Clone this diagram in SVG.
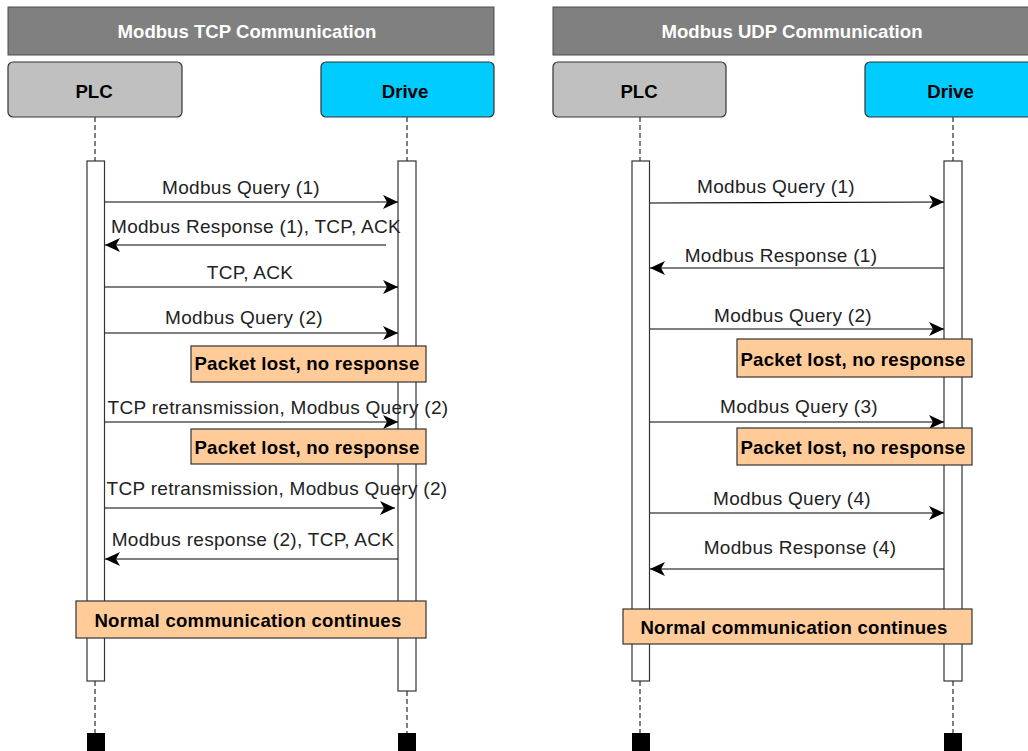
<svg xmlns="http://www.w3.org/2000/svg" width="1028" height="751" viewBox="0 0 1028 751">
<style>
.title{fill:#808080;stroke:#4d4d4d;stroke-width:1}
.tt{font-family:"Liberation Sans",Arial,sans-serif;font-weight:bold;font-size:18.6px;fill:#ffffff;text-anchor:middle}
.plc{fill:#c0c0c0;stroke:#333333;stroke-width:1.2}
.drv{fill:#00ccff;stroke:#333333;stroke-width:1.2}
.pt{font-family:"Liberation Sans",Arial,sans-serif;font-weight:bold;font-size:18.6px;fill:#000000;text-anchor:middle}
.life{stroke:#000000;stroke-width:1;stroke-dasharray:5 3;fill:none}
.bar{fill:#ffffff;stroke:#333333;stroke-width:1.2}
.end{fill:#000000}
.msg{stroke:#000000;stroke-width:1.2;fill:none;marker-end:url(#ah)}
.lbl{font-family:"Liberation Sans",Arial,sans-serif;font-size:19px;letter-spacing:0.3px;fill:#222222;text-anchor:middle}
.note{fill:#ffcc99;stroke:#333333;stroke-width:1.2}
.nt{font-family:"Liberation Sans",Arial,sans-serif;font-weight:bold;font-size:18.6px;letter-spacing:0.25px;fill:#000000;text-anchor:middle}
</style>
<defs>
<marker id="ah" markerUnits="userSpaceOnUse" markerWidth="18" markerHeight="18" viewBox="-17 -9 18 18" refX="0" refY="0" orient="auto">
<path d="M0,0 L-15,-7 L-11,0 L-15,7 Z" fill="#000000"/>
</marker>
</defs>
<rect width="1028" height="751" fill="#ffffff"/>

<!-- TCP panel -->
<g id="tcp-title"><rect class="title" x="8" y="7" width="486" height="48"/><text class="tt" x="247" y="38">Modbus TCP Communication</text></g>
<g id="tcp-plc">
<line class="life" x1="95" y1="117" x2="95" y2="161"/>
<line class="life" x1="95" y1="681" x2="95" y2="733"/>
<rect class="end" x="87" y="733" width="18" height="20"/>
<rect class="bar" x="87" y="161" width="17.5" height="520"/>
<rect class="plc" x="8" y="62" width="174" height="55" rx="5"/><text class="pt" x="94" y="98">PLC</text>
</g>
<g id="tcp-drive">
<line class="life" x1="407" y1="117" x2="407" y2="161"/>
<line class="life" x1="407" y1="691" x2="407" y2="733"/>
<rect class="end" x="398" y="733" width="18" height="20"/>
<rect class="bar" x="398" y="161" width="18" height="530"/>
<rect class="drv" x="321" y="62" width="173" height="55" rx="5"/><text class="pt" x="405" y="98">Drive</text>
</g>
<g id="tcp-connectors">
<line class="msg" x1="105" y1="202" x2="398" y2="202"/>
<line class="msg" x1="386" y1="245" x2="105" y2="245"/>
<line class="msg" x1="105" y1="287" x2="398" y2="287"/>
<line class="msg" x1="105" y1="333" x2="398" y2="333"/>
<line class="msg" x1="105" y1="422" x2="398" y2="422"/>
<line class="msg" x1="105" y1="508" x2="395" y2="508"/>
<line class="msg" x1="398" y1="559" x2="105" y2="559"/>
<text class="lbl" x="241" y="194">Modbus Query (1)</text>
<text class="lbl" x="256" y="233">Modbus Response (1), TCP, ACK</text>
<text class="lbl" x="250" y="279">TCP, ACK</text>
<text class="lbl" x="244" y="324">Modbus Query (2)</text>
<text class="lbl" x="278" y="414">TCP retransmission, Modbus Query (2)</text>
<text class="lbl" x="277" y="494.5">TCP retransmission, Modbus Query (2)</text>
<text class="lbl" x="253" y="545.5">Modbus response (2), TCP, ACK</text>
</g>
<g id="tcp-note1"><rect class="note" x="191" y="346" width="235" height="36"/><text class="nt" x="307" y="370">Packet lost, no response</text></g>
<g id="tcp-note2"><rect class="note" x="191" y="429" width="235" height="35"/><text class="nt" x="307" y="454">Packet lost, no response</text></g>
<g id="tcp-note3"><rect class="note" x="76" y="601" width="350" height="37"/><text class="nt" x="248" y="627">Normal communication continues</text></g>

<!-- UDP panel -->
<g id="udp-title"><rect class="title" x="553" y="7" width="486" height="48"/><text class="tt" x="792" y="38">Modbus UDP Communication</text></g>
<g id="udp-plc">
<line class="life" x1="640" y1="117" x2="640" y2="161"/>
<line class="life" x1="640" y1="681" x2="640" y2="733"/>
<rect class="end" x="632" y="733" width="18" height="20"/>
<rect class="bar" x="632" y="161" width="17.5" height="520"/>
<rect class="plc" x="553" y="62" width="173" height="55" rx="5"/><text class="pt" x="639" y="98">PLC</text>
</g>
<g id="udp-drive">
<line class="life" x1="953" y1="117" x2="953" y2="161"/>
<line class="life" x1="953" y1="681" x2="953" y2="733"/>
<rect class="end" x="944" y="733" width="18" height="20"/>
<rect class="bar" x="944" y="161" width="18" height="520"/>
<rect class="drv" x="865" y="62" width="173" height="55" rx="5"/><text class="pt" x="950.5" y="98">Drive</text>
</g>
<g id="udp-connectors">
<line class="msg" x1="650" y1="203" x2="944" y2="202"/>
<line class="msg" x1="944" y1="268" x2="650" y2="268"/>
<line class="msg" x1="650" y1="329" x2="944" y2="329"/>
<line class="msg" x1="650" y1="422" x2="944" y2="422"/>
<line class="msg" x1="650" y1="513" x2="944" y2="513"/>
<line class="msg" x1="944" y1="569" x2="650" y2="569"/>
<text class="lbl" x="776" y="193">Modbus Query (1)</text>
<text class="lbl" x="781" y="261.5">Modbus Response (1)</text>
<text class="lbl" x="793" y="321.5">Modbus Query (2)</text>
<text class="lbl" x="799" y="413">Modbus Query (3)</text>
<text class="lbl" x="792" y="504.5">Modbus Query (4)</text>
<text class="lbl" x="800" y="554">Modbus Response (4)</text>
</g>
<g id="udp-note1"><rect class="note" x="737" y="339" width="235" height="38"/><text class="nt" x="853" y="366">Packet lost, no response</text></g>
<g id="udp-note2"><rect class="note" x="737" y="428" width="235" height="37"/><text class="nt" x="853" y="454">Packet lost, no response</text></g>
<g id="udp-note3"><rect class="note" x="623" y="609" width="349" height="35"/><text class="nt" x="794" y="634">Normal communication continues</text></g>
</svg>
